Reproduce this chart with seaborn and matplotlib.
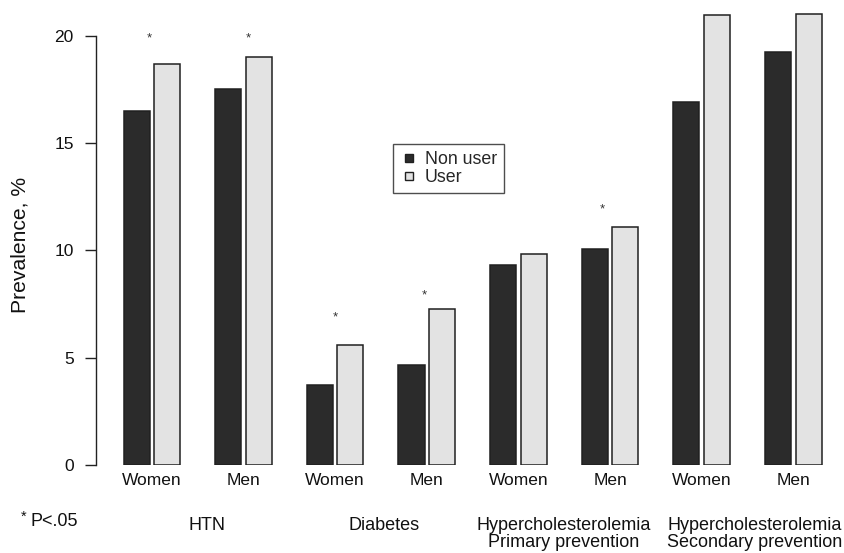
import matplotlib

matplotlib.use("Agg")
import matplotlib.pyplot as plt
from matplotlib.lines import Line2D
import pandas as pd
import seaborn as sns


# values (prevalence, %)
CONDITIONS = ["HTN", "Diabetes", "Hypercholesterolemia\nPrimary prevention",
              "Hypercholesterolemia\nSecondary prevention"]
SEXES = ["Women", "Men"]
NON_USER = [16.5, 17.5, 3.75, 4.65, 9.3, 10.05, 16.9, 19.25]
USER = [18.7, 19.0, 5.6, 7.25, 9.85, 11.1, 20.95, 21.0]
GROUPS = ["Non user", "User"]

# significance marks (group index + shift, height)
STAR_X = [-0.03, 1.05, 2.0, 2.97, 4.92]
STAR_Y = [20.0, 20.0, 7.0, 8.0, 12.0]

DARK = "#2b2b2b"
LIGHT = "#e3e3e3"


def main() -> None:
    sns.set_theme(style="white")
    plt.rcParams["font.family"] = ["Liberation Sans", "DejaVu Sans"]

    cells = [f"{c} {s}" for c in CONDITIONS for s in SEXES]
    df = pd.DataFrame(
        {
            "cell": cells * 2,
            "group": [GROUPS[0]] * len(cells) + [GROUPS[1]] * len(cells),
            "value": NON_USER + USER,
        }
    )

    fig = plt.figure(figsize=(8.44, 5.53), dpi=100)
    ax = fig.add_axes([96 / 844, 1 - 465 / 553, 739 / 844, 461.5 / 553])

    sns.barplot(
        data=df,
        x="cell",
        y="value",
        hue="group",
        order=cells,
        hue_order=GROUPS,
        palette=[DARK, LIGHT],
        width=0.668,
        gap=0.15,
        saturation=1,
        edgecolor="#202020",
        linewidth=1.1,
        legend=False,
        ax=ax,
    )

    ax.set_xlim(-0.611, 7.456)
    ax.set_ylim(0, 21.5)
    ax.set_yticks([0, 5, 10, 15, 20])
    ax.set_xticks(range(len(cells)))
    ax.set_xticklabels(SEXES * len(CONDITIONS), fontsize=12.5)
    ax.tick_params(axis="x", length=0, pad=5.5, colors="#111111")
    ax.tick_params(axis="y", direction="out", length=8, width=1, pad=8,
                   labelsize=12.5, color="#222222", labelcolor="#111111", left=True)
    ax.set_xlabel("")
    ax.set_ylabel("Prevalence, %", fontsize=15.2, va="center", color="#111111")
    ax.yaxis.set_label_coords(-0.1028, 0.4767)

    for side in ["top", "right", "bottom"]:
        ax.spines[side].set_visible(False)
    ax.spines["left"].set_bounds(0, 20)
    ax.spines["left"].set_color("#222222")
    ax.spines["left"].set_linewidth(1)

    for x, y in zip(STAR_X, STAR_Y):
        ax.annotate("*", (x, y), xytext=(0, -1.8), textcoords="offset points",
                    ha="center", va="center", fontsize=9.5, color="#333333")

    label_x = [0.597, 2.536, 4.49, 6.58]
    trans = ax.get_xaxis_transform()
    for x, text in zip(label_x, CONDITIONS):
        ax.text(x, -0.1135, text, transform=trans, ha="center", va="top",
                fontsize=13, linespacing=1.0, color="#111111")

    fig.text(21 / 844, 1 - 521 / 553, "*", fontsize=10.5, ha="left", va="baseline",
             color="#111111")
    fig.text(31 / 844, 1 - 526 / 553, "P<.05", fontsize=13, ha="left",
             va="baseline", color="#111111")

    handles = [
        Line2D([], [], marker="s", linestyle="none", markersize=6,
               markerfacecolor=c, markeredgecolor="#202020", markeredgewidth=1)
        for c in [DARK, LIGHT]
    ]
    leg = fig.legend(
        handles,
        GROUPS,
        loc="upper left",
        bbox_to_anchor=(392.7 / 844, 1 - 144.3 / 553),
        fontsize=12.8,
        frameon=True,
        fancybox=False,
        handlelength=1.07,
        handletextpad=0.34,
        labelspacing=0.02,
        borderpad=0.4,
        borderaxespad=0,
    )
    leg.get_frame().set_edgecolor("#222222")
    leg.get_frame().set_linewidth(1)

    fig.savefig("out.png", dpi=100)
    plt.close(fig)


if __name__ == "__main__":
    main()
